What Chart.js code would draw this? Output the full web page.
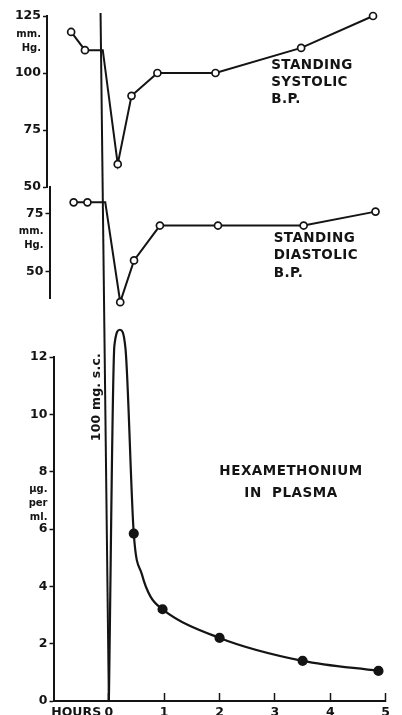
<!DOCTYPE html>
<html>
<head>
<meta charset="utf-8">
<title>Hexamethonium and standing blood pressure</title>
<script src="https://cdn.jsdelivr.net/npm/chart.js@4/dist/chart.umd.min.js"></script>
<style>
    html, body { margin: 0; padding: 0; background: #fff; }
    #wrap { position: relative; width: 402px; height: 715px; overflow: hidden; }
    .layer { position: absolute; left: 0; top: 0; width: 402px; height: 715px; }
</style>
</head>
<body>
<div id="wrap">
    <div class="layer"><canvas id="systolicChart"></canvas></div>
    <div class="layer"><canvas id="diastolicChart"></canvas></div>
    <div class="layer"><canvas id="plasmaChart"></canvas></div>
</div>
<script>
// ============================================================================
// Data
// ============================================================================

// standing blood pressure, mm. Hg.
const bpHours   = [-0.58, -0.34, -0.03, 0.23, 0.47, 0.92, 1.93, 3.42, 4.67];
const systolic  = [118, 110, 110, 60, 90, 100, 100, 111, 125];
const diastolic = [80, 80, 80, 37, 55, 70, 70, 70, 76];
const bpMarked  = [true, true, false, true, true, true, true, true, true];

// hexamethonium in plasma, µg. per ml.
const plasmaHours  = [0, 0.1, 0.2, 0.3, 0.45, 0.6, 0.75, 0.97, 2, 3.5, 4.87];
const plasmaLevel  = [0, 12.4, 12.95, 12.3, 5.84, 4.4, 3.65, 3.2, 2.2, 1.4, 1.05];
const plasmaMarked = [false, false, true, false, true, false, false, true, true, true, true];

// 100 mg. s.c. given at time 0
const injectionHours = [0, -0.15];
const injectionLevel = [0, 24];

// tick labels
const systolicTicks  = [50, 75, 100, 125];
const diastolicTicks = [50, 75];
const plasmaTicks    = [0, 2, 4, 6, 8, 10, 12];
const hourTicks      = [0, 1, 2, 3, 4, 5];
const bpUnit         = ['mm.', 'Hg.'];
const plasmaUnit     = ['µg.', 'per', 'ml.'];

// ============================================================================
// Shared styling
// ============================================================================

const INK = '#141414';
const FONT = '"DejaVu Sans", sans-serif';

const toPoints = (xs, ys) => xs.map((x, i) => ({ x, y: ys[i] }));

const yScale = (min, max, values, unit, unitAt, width) => ({
    position: 'left',
    min,
    max,
    afterFit: (s) => { s.width = width; },
    afterBuildTicks: (s) => { s.ticks = values.concat(unitAt).map(v => ({ value: v })); },
    border: { color: INK, width: 2 },
    grid: {
        drawOnChartArea: false,
        tickLength: 4,
        tickWidth: 1.5,
        tickColor: c => (c.tick && c.tick.value === unitAt ? 'transparent' : INK),
    },
    ticks: {
        color: INK,
        padding: 2,
        autoSkip: false,
        font: c => (c.tick && c.tick.value === unitAt
            ? { family: FONT, size: 10, weight: 'bold', lineHeight: 1.4 }
            : { family: FONT, size: 12.5, weight: 'bold' }),
        callback: v => (v === unitAt ? unit : String(v)),
    },
});

const hiddenX = { type: 'linear', min: -1, max: 5, display: false };

const notesPlugin = items => ({
    id: 'notes',
    afterDatasetsDraw(chart) {
        const { ctx, scales: { x, y } } = chart;
        items.forEach(n => {
            ctx.save();
            ctx.fillStyle = INK;
            ctx.font = `bold ${n.size}px ${FONT}`;
            ctx.letterSpacing = `${n.spacing}px`;
            ctx.textAlign = n.align;
            ctx.textBaseline = 'middle';
            ctx.translate(x.getPixelForValue(n.hour), y.getPixelForValue(n.value));
            if (n.rotate) ctx.rotate(n.rotate);
            n.lines.forEach((t, i) => ctx.fillText(t, 0, i * n.gap));
            ctx.restore();
        });
    },
});

const bpDataset = values => ({
    data: toPoints(bpHours, values),
    borderColor: INK,
    borderWidth: 2,
    pointRadius: bpMarked.map(m => (m ? 3.5 : 0)),
    pointBackgroundColor: '#fff',
    pointBorderColor: INK,
    pointBorderWidth: 1.7,
    tension: 0,
    clip: false,
});

const baseOptions = (padding, scales) => ({
    responsive: true,
    maintainAspectRatio: false,
    animation: false,
    layout: { padding },
    plugins: { legend: { display: false }, tooltip: { enabled: false } },
    scales,
});

// ============================================================================
// Charts
// ============================================================================

new Chart(document.getElementById('systolicChart'), {
    type: 'line',
    data: { datasets: [bpDataset(systolic)] },
    options: baseOptions(
        { left: 0, top: 15, right: 10, bottom: 528 },
        { x: hiddenX, y: yScale(50, 125, systolicTicks, bpUnit, 114, 47) }
    ),
    plugins: [notesPlugin([
        { lines: ['STANDING', 'SYSTOLIC', 'B.P.'], hour: 2.9, value: 103.2,
          gap: 17, size: 13.5, spacing: 0.4, align: 'left' },
    ])],
});

new Chart(document.getElementById('diastolicChart'), {
    type: 'line',
    data: { datasets: [bpDataset(diastolic)] },
    options: baseOptions(
        { left: 0, top: 187, right: 7.5, bottom: 417 },
        { x: hiddenX, y: yScale(38.8, 86.6, diastolicTicks, bpUnit, 64.3, 49.5) }
    ),
    plugins: [notesPlugin([
        { lines: ['STANDING', 'DIASTOLIC', 'B.P.'], hour: 2.9, value: 64.6,
          gap: 17.5, size: 13.5, spacing: 0.4, align: 'left' },
    ])],
});

new Chart(document.getElementById('plasmaChart'), {
    type: 'line',
    data: {
        datasets: [
            {
                data: toPoints(plasmaHours, plasmaLevel),
                borderColor: INK,
                borderWidth: 2.2,
                pointRadius: plasmaMarked.map(m => (m ? 4 : 0)),
                pointBackgroundColor: INK,
                pointBorderColor: INK,
                cubicInterpolationMode: 'monotone',
                clip: false,
            },
            {
                data: toPoints(injectionHours, injectionLevel),
                borderColor: INK,
                borderWidth: 2,
                pointRadius: 0,
                tension: 0,
                clip: false,
            },
        ],
    },
    options: baseOptions(
        { left: 0, top: 357, right: 3.5, bottom: 0 },
        {
            x: {
                type: 'linear',
                min: -1,
                max: 5,
                afterFit: (s) => { s.height = 14; },
                afterBuildTicks: (s) => { s.ticks = [-0.59].concat(hourTicks).map(v => ({ value: v })); },
                border: { color: INK, width: 2 },
                grid: {
                    drawOnChartArea: false,
                    tickLength: -8,
                    tickWidth: 1.5,
                    tickColor: c => (c.tick && c.tick.value < 0 ? 'transparent' : INK),
                },
                ticks: {
                    color: INK,
                    padding: 12,
                    autoSkip: false,
                    maxRotation: 0,
                    font: { family: FONT, size: 12.5, weight: 'bold' },
                    callback: v => (v < 0 ? 'HOURS' : String(v)),
                },
            },
            y: yScale(0, 12, plasmaTicks, plasmaUnit, 6.9, 53.5),
        }
    ),
    plugins: [notesPlugin([
        { lines: ['HEXAMETHONIUM', 'IN  PLASMA'], hour: 3.29, value: 8.0,
          gap: 22, size: 13.5, spacing: 0.5, align: 'center' },
        { lines: ['100 mg. s.c.'], hour: -0.21, value: 10.6,
          gap: 0, size: 12.5, spacing: 0.2, align: 'center', rotate: -Math.PI / 2 },
    ])],
});
</script>
</body>
</html>
